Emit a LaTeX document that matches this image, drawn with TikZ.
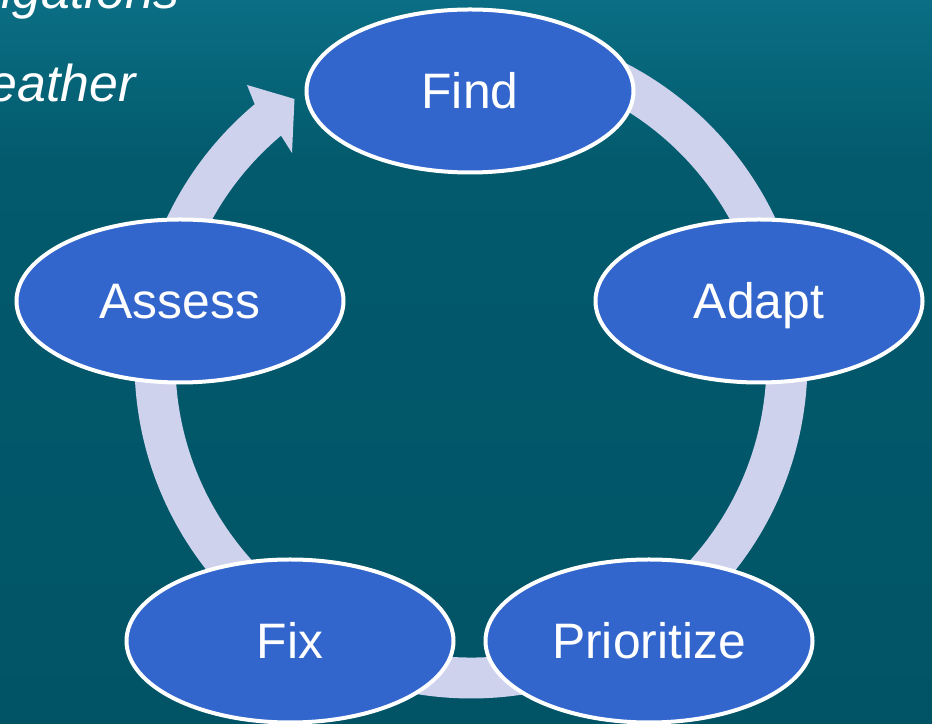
\documentclass[tikz,border=0pt]{standalone}
\usepackage{fontspec}
\setmainfont{Liberation Sans}
\usetikzlibrary{shapes.geometric}
\definecolor{bgtop}{RGB}{11,110,132}
\definecolor{bgbase}{RGB}{2,90,108}
\definecolor{bglow}{RGB}{1,84,102}
\definecolor{ringcol}{RGB}{206,210,236}
\definecolor{ovalblue}{RGB}{51,102,204}
\tikzset{
  stage/.style={ellipse, draw=white, line width=4bp, fill=ovalblue,
    minimum width=327bp, minimum height=163bp, inner sep=0pt,
    text=white, font=\fontsize{50}{60}\selectfont,
    text height=36bp, text depth=0pt},
  slidetext/.style={text=white, font=\fontsize{52}{62}\selectfont\itshape, inner sep=0pt}
}
\begin{document}
\begin{tikzpicture}[x=1bp,y=1bp]
\useasboundingbox (0,0) rectangle (932,724);
\clip (0,0) rectangle (932,724);
% background
\shade[top color=bgbase, bottom color=bglow] (0,0) rectangle (932,560);
\shade[top color=bgtop, bottom color=bgbase] (0,560) rectangle (932,724);
% slide text (cut off at the left edge)
\node[slidetext, anchor=base east] (t1) at (180,715) {igations};
\node[slidetext, anchor=base east] (t2) at (136,622) {eather};
% cycle ring with arrow head
\coordinate (C) at (471,362);
\fill[ringcol] (281,588.4) -- (292,571) -- (294.5,625) -- (247,639) -- (254.7,619.8)
  arc[start angle=130, end angle=440, radius=336.5]
  -- ([shift={(440:295.5)}]C)
  arc[start angle=440, end angle=130, radius=295.5] -- cycle;
% stages
\node[stage] (find) at (470,633) {Find};
\node[stage] (adapt) at (759,423) {Adapt};
\node[stage] (assess) at (180,423) {Assess};
\node[stage] (fix) at (290,83) {Fix};
\node[stage] (prio) at (649,83) {Prioritize};
\end{tikzpicture}
\end{document}
